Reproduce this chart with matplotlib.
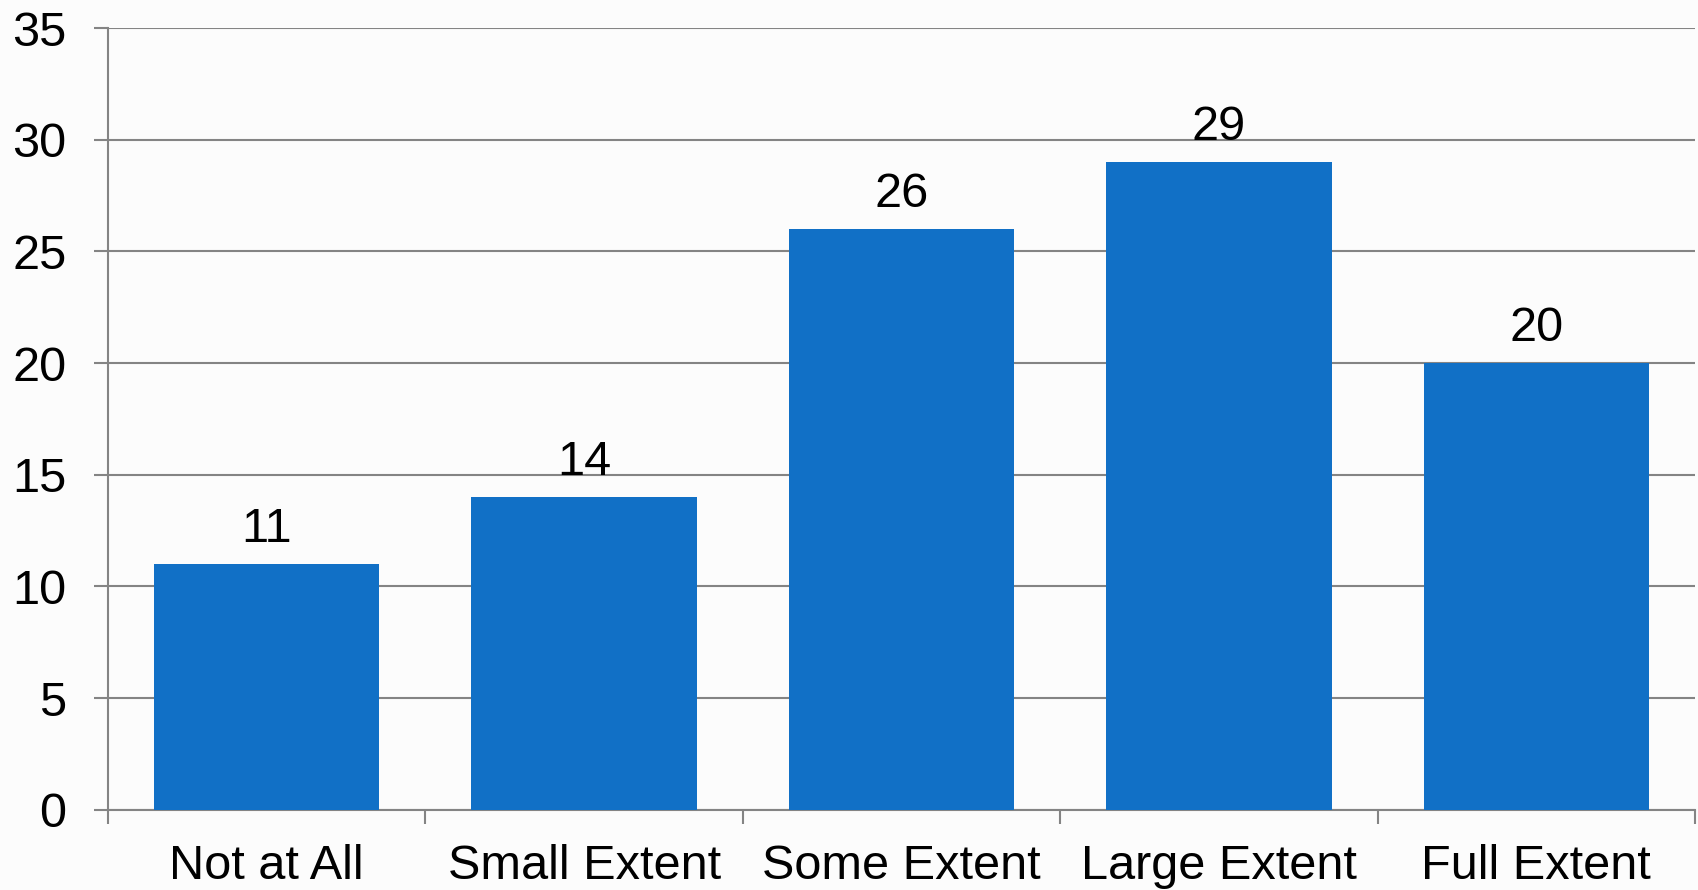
import numpy as np
import matplotlib
matplotlib.use('Agg')
import matplotlib.pyplot as plt

categories = ['Not at All', 'Small Extent', 'Some Extent', 'Large Extent', 'Full Extent']
counts = [11, 14, 26, 29, 20]
yticks = [0, 5, 10, 15, 20, 25, 30, 35]

plt.rcParams['font.family'] = ['Liberation Sans', 'DejaVu Sans']

bar_color = '#1170C6'
line_color = '#848484'
fs = 35

fig = plt.figure(figsize=(16.99, 8.90), dpi=100)
fig.patch.set_facecolor('#fcfcfc')
ax = fig.add_axes([0.0636, 0.0902, 0.9340, 0.8783])
ax.set_facecolor('#fcfcfc')

x = np.arange(len(categories))
ax.bar(x, counts, width=0.71, color=bar_color, zorder=3)

for xi, v in zip(x, counts):
    ax.annotate(str(v), (xi, v), xytext=(0, 9), textcoords='offset points',
                ha='center', va='bottom', fontsize=fs, color='black', zorder=4)

ax.set_xlim(-0.5, len(categories) - 0.5)
ax.set_ylim(0, 35)
ax.set_yticks(yticks)
ax.set_yticklabels([str(t) for t in yticks])
ax.yaxis.grid(True, color=line_color, linewidth=1.5, zorder=0)
ax.set_axisbelow(True)

# category labels at bar centres, tick marks between categories
ax.set_xticks(x)
ax.set_xticklabels(categories)
ax.set_xticks(np.arange(-0.5, len(categories)), minor=True)
ax.tick_params(axis='x', which='major', length=0, pad=25, labelsize=fs)
ax.tick_params(axis='x', which='minor', length=10, width=1.5, color=line_color)
ax.tick_params(axis='y', length=10, width=1.5, color=line_color, pad=20, labelsize=fs)

for side in ['top', 'right']:
    ax.spines[side].set_visible(False)
for side in ['left', 'bottom']:
    ax.spines[side].set_color(line_color)
    ax.spines[side].set_linewidth(1.5)

plt.savefig('out.png', dpi=100, facecolor=fig.get_facecolor())
